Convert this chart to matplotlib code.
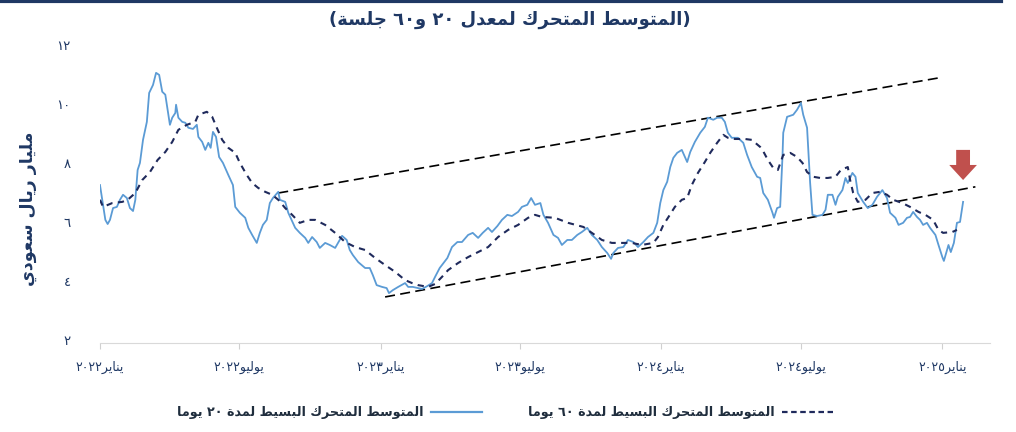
import matplotlib
matplotlib.use("Agg")
import matplotlib.pyplot as plt
import matplotlib.dates as mdates
from matplotlib.lines import Line2D
from matplotlib.patches import Polygon
import pandas as pd

# ---- data ----
start = pd.Timestamp("2022-01-01")

# 20-day simple moving average, days since 2022-01-01 / billion SAR
days_20 = [0, 3, 7, 10, 13, 17, 22, 26, 30, 35, 39, 43, 46, 49, 52, 56, 61, 64, 69, 73,
           77, 81, 85, 88, 91, 94, 98, 99, 102, 107, 111, 115, 121, 126, 128, 133, 137, 141, 144, 147,
           151, 155, 160, 167, 173, 176, 182, 189, 193, 198, 204, 208, 212, 217, 221, 225, 232, 234, 241, 245,
           254, 260, 267, 271, 276, 282, 286, 293, 299, 306, 315, 321, 325, 329, 336, 345, 351, 355, 360, 367,
           373, 376, 381, 388, 397, 401, 407, 419, 426, 432, 436, 442, 452, 458, 465, 471, 479, 485, 492, 498,
           505, 510, 517, 523, 530, 536, 544, 549, 556, 561, 566, 573, 577, 583, 590, 596, 601, 608, 614, 621,
           627, 634, 640, 647, 653, 660, 665, 668, 674, 681, 687, 694, 700, 707, 713, 720, 725, 729, 733, 738,
           742, 746, 751, 757, 764, 768, 774, 781, 787, 791, 798, 803, 809, 813, 817, 822, 830, 837, 842, 848,
           855, 859, 863, 869, 875, 877, 881, 885, 888, 889, 894, 902, 907, 912, 915, 920, 924, 927, 933, 940,
           944, 947, 953, 957, 960, 966, 970, 973, 979, 983, 986, 993, 999, 1005, 1011, 1018, 1024, 1028, 1035, 1039,
           1045, 1050, 1054, 1058, 1063, 1067, 1071, 1076, 1080, 1087, 1091, 1096, 1098, 1104, 1107, 1111, 1115, 1119, 1123]
vals_20 = [7.25, 6.75, 6.07, 5.93, 6.07, 6.47, 6.51, 6.75, 6.92, 6.81, 6.47, 6.37, 6.75, 7.76, 8.00, 8.78, 9.39, 10.37, 10.64, 11.05,
           10.98, 10.41, 10.31, 9.80, 9.29, 9.53, 9.69, 9.97, 9.53, 9.39, 9.36, 9.19, 9.15, 9.29, 8.88, 8.71, 8.44, 8.68, 8.51, 9.05,
           8.88, 8.20, 8.00, 7.59, 7.25, 6.51, 6.31, 6.14, 5.80, 5.56, 5.29, 5.63, 5.90, 6.07, 6.64, 6.81, 7.02, 6.75, 6.68, 6.31,
           5.80, 5.63, 5.46, 5.29, 5.49, 5.32, 5.12, 5.29, 5.22, 5.12, 5.53, 5.39, 5.05, 4.88, 4.64, 4.44, 4.44, 4.20, 3.86, 3.80,
           3.76, 3.59, 3.69, 3.80, 3.93, 3.80, 3.80, 3.73, 3.83, 3.93, 4.14, 4.44, 4.78, 5.15, 5.32, 5.32, 5.56, 5.63, 5.46, 5.63,
           5.80, 5.66, 5.86, 6.07, 6.24, 6.20, 6.34, 6.51, 6.58, 6.81, 6.58, 6.64, 6.24, 5.97, 5.56, 5.46, 5.22, 5.39, 5.39, 5.56,
           5.66, 5.80, 5.56, 5.39, 5.15, 4.95, 4.75, 4.95, 5.12, 5.15, 5.39, 5.32, 5.15, 5.32, 5.49, 5.63, 5.97, 6.64, 7.08, 7.36,
           7.86, 8.17, 8.34, 8.44, 8.03, 8.37, 8.71, 9.02, 9.22, 9.53, 9.46, 9.53, 9.53, 9.39, 9.02, 8.85, 8.85, 8.68, 8.27, 7.86,
           7.53, 7.49, 6.98, 6.75, 6.31, 6.14, 6.47, 6.51, 8.20, 9.02, 9.56, 9.63, 9.80, 10.03, 9.63, 9.19, 7.32, 6.24, 6.20, 6.24,
           6.41, 6.92, 6.92, 6.58, 6.85, 7.08, 7.49, 7.32, 7.66, 7.53, 6.98, 6.68, 6.47, 6.58, 6.85, 7.08, 6.81, 6.31, 6.14, 5.90,
           5.97, 6.14, 6.17, 6.34, 6.17, 6.07, 5.90, 5.97, 5.80, 5.56, 5.22, 4.81, 4.68, 5.22, 4.98, 5.29, 5.97, 6.00, 6.68]

# 60-day simple moving average
days_60 = [0, 4, 16, 29, 36, 46, 55, 65, 75, 85, 94, 102, 113, 124, 128, 139, 146, 152, 159, 167,
           176, 182, 191, 198, 206, 215, 224, 232, 241, 250, 260, 271, 280, 293, 306, 319, 332, 345, 358, 371,
           384, 397, 406, 414, 427, 436, 445, 453, 466, 479, 492, 505, 518, 531, 544, 557, 566, 575, 592, 609,
           629, 640, 653, 666, 679, 692, 705, 720, 726, 733, 739, 748, 757, 764, 770, 778, 787, 794, 803, 811,
           817, 826, 839, 848, 859, 862, 869, 876, 882, 889, 898, 907, 914, 920, 928, 937, 947, 957, 964, 973,
           976, 980, 986, 996, 1005, 1015, 1024, 1032, 1044, 1054, 1065, 1074, 1084, 1091, 1097, 1109, 1115]
vals_60 = [6.75, 6.51, 6.64, 6.68, 6.75, 6.98, 7.42, 7.69, 8.10, 8.37, 8.71, 9.12, 9.29, 9.39, 9.63, 9.73, 9.56, 9.19, 8.78, 8.51,
           8.34, 8.00, 7.59, 7.32, 7.15, 7.02, 6.92, 6.75, 6.47, 6.24, 5.97, 6.07, 6.07, 5.90, 5.63, 5.32, 5.15, 5.05, 4.78, 4.54,
           4.31, 4.03, 3.93, 3.86, 3.80, 3.90, 4.14, 4.37, 4.61, 4.81, 4.98, 5.15, 5.49, 5.73, 5.90, 6.14, 6.24, 6.17, 6.14, 5.97,
           5.83, 5.63, 5.39, 5.29, 5.29, 5.29, 5.22, 5.29, 5.49, 5.90, 6.14, 6.51, 6.75, 6.81, 7.25, 7.66, 8.03, 8.34, 8.68, 8.95,
           8.85, 8.81, 8.81, 8.78, 8.54, 8.44, 8.10, 7.83, 7.76, 8.27, 8.34, 8.20, 8.00, 7.69, 7.53, 7.49, 7.49, 7.53, 7.76, 7.86,
           7.42, 6.98, 6.68, 6.75, 6.98, 7.02, 6.92, 6.75, 6.64, 6.51, 6.34, 6.24, 6.07, 5.73, 5.63, 5.66, 5.73]

# trend channel
upper_days = [232, 1096]
upper_vals = [6.98, 10.90]
lower_days = [371, 1139]
lower_vals = [3.46, 7.19]

tick_dates = ["2022-01-01", "2022-07-01", "2023-01-01", "2023-07-01",
              "2024-01-01", "2024-07-01", "2025-01-01"]
tick_names = ["يناير٢٠٢٢", "يوليو٢٠٢٢", "يناير٢٠٢٣", "يوليو٢٠٢٣",
              "يناير٢٠٢٤", "يوليو٢٠٢٤", "يناير٢٠٢٥"]
y_ticks = [2, 4, 6, 8, 10, 12]

title = "(المتوسط المتحرك لمعدل ٢٠ و٦٠ جلسة)"
y_title = "مليار ريال سعودي"
name_20 = "المتوسط المتحرك البسيط لمدة ٢٠ يوما"
name_60 = "المتوسط المتحرك البسيط لمدة ٦٠ يوما"

# ---- minimal Arabic shaping (matplotlib has no bidi / joining) ----
# isolated, final, initial, medial
FORMS = {
    'ا': ('\uFE8D', '\uFE8E', None, None),
    'ب': ('\uFE8F', '\uFE90', '\uFE91', '\uFE92'),
    'ة': ('\uFE93', '\uFE94', None, None),
    'ت': ('\uFE95', '\uFE96', '\uFE97', '\uFE98'),
    'ج': ('\uFE9D', '\uFE9E', '\uFE9F', '\uFEA0'),
    'ح': ('\uFEA1', '\uFEA2', '\uFEA3', '\uFEA4'),
    'د': ('\uFEA9', '\uFEAA', None, None),
    'ر': ('\uFEAD', '\uFEAE', None, None),
    'ز': ('\uFEAF', '\uFEB0', None, None),
    'س': ('\uFEB1', '\uFEB2', '\uFEB3', '\uFEB4'),
    'ط': ('\uFEC1', '\uFEC2', '\uFEC3', '\uFEC4'),
    'ع': ('\uFEC9', '\uFECA', '\uFECB', '\uFECC'),
    'ك': ('\uFED9', '\uFEDA', '\uFEDB', '\uFEDC'),
    'ل': ('\uFEDD', '\uFEDE', '\uFEDF', '\uFEE0'),
    'م': ('\uFEE1', '\uFEE2', '\uFEE3', '\uFEE4'),
    'ن': ('\uFEE5', '\uFEE6', '\uFEE7', '\uFEE8'),
    'ه': ('\uFEE9', '\uFEEA', '\uFEEB', '\uFEEC'),
    'و': ('\uFEED', '\uFEEE', None, None),
    'ي': ('\uFEF1', '\uFEF2', '\uFEF3', '\uFEF4'),
}
DIGITS = set("0123456789٠١٢٣٤٥٦٧٨٩")
MIRROR = {'(': ')', ')': '('}


def ar(text):
    def joins_next(c):
        return c in FORMS and FORMS[c][2] is not None
    shaped = []
    for i, c in enumerate(text):
        if c not in FORMS:
            shaped.append(c)
            continue
        prev = text[i - 1] if i > 0 else ''
        nxt = text[i + 1] if i + 1 < len(text) else ''
        p = joins_next(prev)
        n = joins_next(c) and nxt in FORMS
        iso, fin, ini, med = FORMS[c]
        shaped.append(med if p and n else fin if p else ini if n else iso)
    # split into digit / non-digit runs, then lay out right to left
    runs = []
    for c in shaped:
        d = c in DIGITS
        if runs and runs[-1][0] == d:
            runs[-1][1].append(c)
        else:
            runs.append([d, [c]])
    out = ""
    for d, chars in reversed(runs):
        if d:
            out += "".join(chars)
        else:
            out += "".join(MIRROR.get(c, c) for c in reversed(chars))
    return out


def ar_digits(n):
    return "".join("٠١٢٣٤٥٦٧٨٩"[int(c)] for c in str(n))


def day_num(days):
    return mdates.date2num(start + pd.to_timedelta(days, unit="D"))


# ---- plot ----
navy = "#1F3864"
plt.rcParams['font.family'] = ['DejaVu Sans']

fig = plt.figure(figsize=(10.16, 4.32), dpi=100)
ax = fig.add_axes([0.0984, 0.206, 0.8760, 0.704])

ax.plot(day_num(days_20), vals_20, color="#5B9BD5", lw=1.3, zorder=3)
ax.plot(day_num(days_60), vals_60, color="#1F2A5C", lw=1.5, dashes=(3.0, 2.6), zorder=4)

ax.plot(day_num(upper_days), upper_vals, color="black", lw=1.2, dashes=(6, 3.2), zorder=2)
ax.plot(day_num(lower_days), lower_vals, color="black", lw=1.2, dashes=(6, 3.2), zorder=2)

# red arrow pointing at the lower channel line
xa = day_num([1123])[0]
sw, hw = 9, 18
arrow = Polygon([(xa - sw, 8.44), (xa + sw, 8.44), (xa + sw, 7.93), (xa + hw, 7.93),
                 (xa, 7.42), (xa - hw, 7.93), (xa - sw, 7.93)],
                closed=True, facecolor="#C0504D", edgecolor="none", zorder=5)
ax.add_patch(arrow)

ax.set_xlim(day_num([0])[0], day_num([1158])[0])
ax.set_ylim(1.9, 12.2)

ax.set_xticks(mdates.date2num(pd.to_datetime(tick_dates)))
ax.set_xticklabels([ar(t) for t in tick_names], fontsize=9, color=navy)
ax.set_yticks(y_ticks)
ax.set_yticklabels([ar_digits(v) for v in y_ticks], fontsize=9.5, color=navy)
ax.tick_params(axis="x", length=4, color="#D0D0D0", pad=9)
ax.tick_params(axis="y", length=0, pad=21)

for s in ["top", "right", "left"]:
    ax.spines[s].set_visible(False)
ax.spines["bottom"].set_color("#D9D9D9")

ax.set_ylabel(ar(y_title), fontsize=12.5, fontweight="bold", color=navy)
ax.yaxis.set_label_coords(-0.071, 0.44)

fig.text(0.502, 0.955, ar(title), ha="center", va="center",
         fontsize=13, fontweight="bold", color=navy)
fig.add_artist(Line2D([0, 0.985], [0.997, 0.997], color=navy, lw=3))

handles = [Line2D([], [], color="#5B9BD5", lw=1.6),
           Line2D([], [], color="#1F2A5C", lw=1.6, dashes=(2.5, 1.6))]
leg = fig.legend(handles, [ar(name_20), ar(name_60)], loc="center",
                 bbox_to_anchor=(0.497, 0.044), ncol=2, frameon=False,
                 markerfirst=False, handlelength=4.0, handletextpad=0.6,
                 columnspacing=3.6, prop={"size": 9.2, "weight": "bold"})
for t in leg.get_texts():
    t.set_color("#1F2D3D")

fig.savefig("out.png", dpi=100)
